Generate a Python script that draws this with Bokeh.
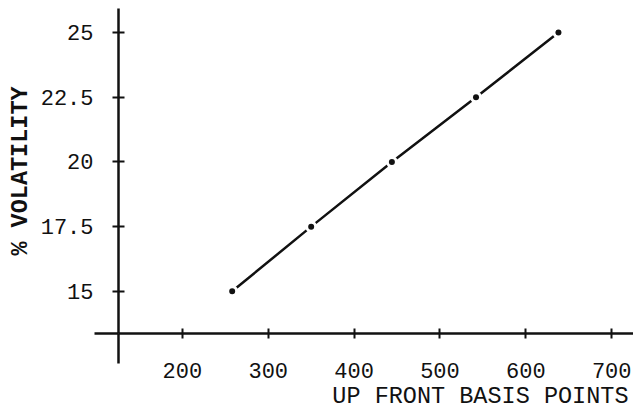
from bokeh.plotting import figure
from bokeh.models import Range1d, LinearAxis, FixedTicker, Title, NumeralTickFormatter
from bokeh.embed import file_html
from bokeh.resources import INLINE

# data
basis_points = [258, 350, 444, 542, 638]
volatility = [15, 17.5, 20, 22.5, 25]
x_ticks = [200, 300, 400, 500, 600, 700]
y_ticks = [15, 17.5, 20, 22.5, 25]
x_title = "UP FRONT BASIS POINTS"
y_title = "% VOLATILITY"

FONT = "Liberation Mono"
INK = "#111111"

X0, X1 = 125.6, 725.4
Y0, Y1 = 13.37, 25.93

p = figure(width=633, height=410, output_backend="svg", toolbar_location=None,
           x_range=Range1d(X0, X1), y_range=Range1d(Y0, Y1),
           x_axis_type=None, y_axis_type=None,
           min_border_left=118, min_border_right=0, min_border_top=8, min_border_bottom=77)
p.outline_line_color = None
p.background_fill_color = "white"
p.border_fill_color = "white"

# minor ticks at the range start extend the axis lines beyond the crossing point
xaxis = LinearAxis(ticker=FixedTicker(ticks=x_ticks, minor_ticks=[X0 + 0.01]))
yaxis = LinearAxis(ticker=FixedTicker(ticks=y_ticks, minor_ticks=[Y0 + 0.001]),
                   formatter=NumeralTickFormatter(format="0.[0]"))
for ax in (xaxis, yaxis):
    ax.axis_line_width = 2.5
    ax.axis_line_color = INK
    ax.major_tick_line_width = 2
    ax.major_tick_line_color = INK
    ax.minor_tick_line_width = 2.5
    ax.minor_tick_line_color = INK
    ax.minor_tick_in = 0
    ax.major_label_text_font = FONT
    ax.major_label_text_font_size = "22px"
    ax.major_label_text_color = INK
xaxis.major_tick_in = 5
xaxis.major_tick_out = 5
xaxis.minor_tick_out = 30
xaxis.major_label_standoff = -1
yaxis.major_tick_in = 6
yaxis.major_tick_out = 6
yaxis.minor_tick_out = 24
yaxis.major_label_standoff = 1
p.add_layout(xaxis, "below")
p.add_layout(yaxis, "left")

p.add_layout(Title(text=x_title, align="right", offset=5, standoff=0,
                   text_baseline="alphabetic",
                   text_font=FONT, text_font_size="23.5px", text_font_style="normal",
                   text_color=INK), "below")
p.add_layout(Title(text=y_title, align="center", standoff=8,
                   text_font=FONT, text_font_size="23.5px", text_font_style="bold",
                   text_color=INK), "left")

p.line(basis_points, volatility, line_width=2.5, line_color=INK)
p.scatter(basis_points, volatility, size=12, fill_color="white", line_color=None)
p.scatter(basis_points, volatility, size=6, fill_color=INK, line_color=None)

open("out.html", "w").write(file_html(p, INLINE))
